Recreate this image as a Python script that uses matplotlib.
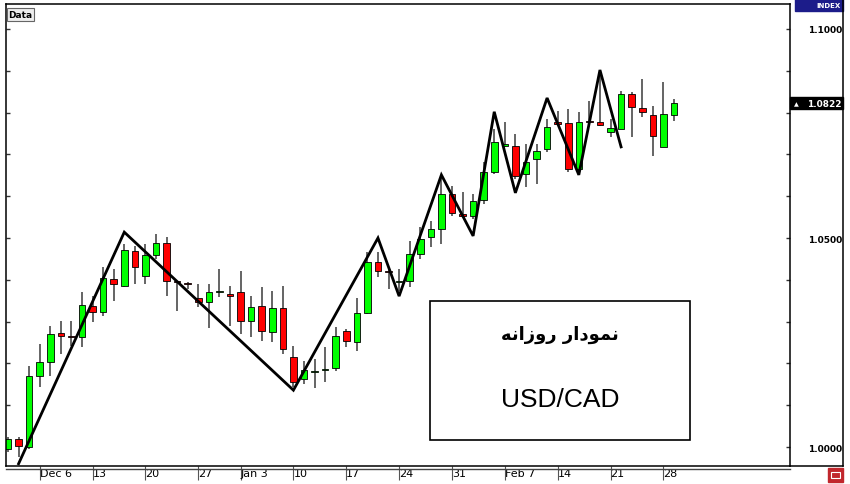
import matplotlib
matplotlib.use('Agg')
import matplotlib.pyplot as plt
import numpy as np
from matplotlib.patches import Rectangle
from matplotlib.transforms import blended_transform_factory

# daily USD/CAD candles (Dec -> Feb)
opens = [0.9995, 1.0019, 1.0000, 1.0170, 1.0203, 1.0273, 1.0266, 1.0263, 1.0337, 1.0323,
         1.0402, 1.0385, 1.0469, 1.0409, 1.0459, 1.0488, 1.0397, 1.0392, 1.0357, 1.0347,
         1.0371, 1.0366, 1.0371, 1.0302, 1.0337, 1.0275, 1.0333, 1.0215, 1.0163, 1.0180,
         1.0184, 1.0189, 1.0278, 1.0251, 1.0321, 1.0443, 1.0421, 1.0395, 1.0397, 1.0462,
         1.0502, 1.0522, 1.0605, 1.0558, 1.0553, 1.0591, 1.0658, 1.0720, 1.0720, 1.0653,
         1.0689, 1.0713, 1.0778, 1.0775, 1.0665, 1.0780, 1.0778, 1.0754, 1.0761, 1.0845,
         1.0811, 1.0794, 1.0718, 1.0794]
closes = [1.0019, 1.0002, 1.0170, 1.0203, 1.0270, 1.0266, 1.0263, 1.0340, 1.0323, 1.0404,
          1.0390, 1.0471, 1.0431, 1.0459, 1.0488, 1.0397, 1.0395, 1.0390, 1.0347, 1.0371,
          1.0373, 1.0361, 1.0302, 1.0335, 1.0278, 1.0333, 1.0235, 1.0156, 1.0184, 1.0182,
          1.0187, 1.0266, 1.0254, 1.0321, 1.0443, 1.0421, 1.0419, 1.0397, 1.0462, 1.0498,
          1.0522, 1.0605, 1.0560, 1.0553, 1.0589, 1.0658, 1.0730, 1.0725, 1.0648, 1.0682,
          1.0708, 1.0766, 1.0773, 1.0665, 1.0778, 1.0778, 1.0770, 1.0763, 1.0845, 1.0813,
          1.0802, 1.0744, 1.0797, 1.0822]
highs = [1.0024, 1.0024, 1.0194, 1.0246, 1.0290, 1.0302, 1.0302, 1.0371, 1.0361, 1.0431,
         1.0426, 1.0486, 1.0481, 1.0486, 1.0510, 1.0502, 1.0397, 1.0395, 1.0390, 1.0390,
         1.0426, 1.0385, 1.0421, 1.0361, 1.0383, 1.0373, 1.0385, 1.0242, 1.0206, 1.0211,
         1.0239, 1.0287, 1.0282, 1.0357, 1.0467, 1.0467, 1.0426, 1.0426, 1.0493, 1.0526,
         1.0541, 1.0646, 1.0624, 1.0610, 1.0605, 1.0682, 1.0761, 1.0778, 1.0749, 1.0725,
         1.0725, 1.0785, 1.0804, 1.0809, 1.0802, 1.0828, 1.0892, 1.0785, 1.0852, 1.0849,
         1.0880, 1.0816, 1.0873, 1.0833]
lows = [0.9988, 0.9976, 0.9995, 1.0144, 1.0170, 1.0223, 1.0242, 1.0239, 1.0299, 1.0313,
        1.0349, 1.0383, 1.0390, 1.0390, 1.0450, 1.0361, 1.0325, 1.0378, 1.0335, 1.0285,
        1.0359, 1.0290, 1.0270, 1.0263, 1.0254, 1.0251, 1.0223, 1.0144, 1.0151, 1.0141,
        1.0156, 1.0182, 1.0239, 1.0230, 1.0318, 1.0407, 1.0378, 1.0373, 1.0383, 1.0450,
        1.0479, 1.0486, 1.0553, 1.0550, 1.0546, 1.0581, 1.0653, 1.0718, 1.0641, 1.0622,
        1.0629, 1.0706, 1.0768, 1.0658, 1.0658, 1.0773, 1.0768, 1.0742, 1.0761, 1.0742,
        1.0790, 1.0696, 1.0718, 1.0780]

# weekly date ticks (candle index of each Monday)
week_idx = [3, 8, 13, 18, 22, 27, 32, 37, 42, 47, 52, 57, 62]
week_labels = ['Dec 6', '13', '20', '27', 'Jan 3', '10', '17', '24', '31',
               'Feb 7', '14', '21', '28']

# hand drawn swing (zigzag) line
swing_idx = [1, 11, 27, 35, 37, 41, 44, 46, 48, 51, 54, 56, 58]
swing_price = [0.9960, 1.0514, 1.0136, 1.0500, 1.0361, 1.0651, 1.0505,
               1.0802, 1.0608, 1.0835, 1.0651, 1.0902, 1.0718]

price_ticks = [1.0000, 1.0500, 1.1000]
grid_ticks = np.arange(1.0, 1.1001, 0.01)

title_fa = '\ufeea\ufee7\ufe8d\ufeaf\ufeed\ufead \ufead\ufe8d\ufea9\ufeee\ufee4\ufee7'  # "نمودار روزانه" in shaped visual order
pair = 'USD/CAD'

W, H = 850, 485


def px_box(l, t, r, b):
    return [l / W, 1 - b / H, (r - l) / W, (b - t) / H]


fig = plt.figure(figsize=(W / 100, H / 100), dpi=100)
ax = fig.add_axes(px_box(6, 5, 790, 467))
ax.set_xlim(-0.19, 73.98)
ax.set_ylim(0.99546, 1.10598)

# candles
xs = np.arange(len(opens))
up = [c >= o for o, c in zip(opens, closes)]
colors = ['#00ff00' if u else '#ff0000' for u in up]
bottoms = [min(o, c) for o, c in zip(opens, closes)]
heights = [max(abs(c - o), 0.0002) for o, c in zip(opens, closes)]
ax.vlines(xs, lows, highs, color='#3a3a3a', lw=1.1, zorder=1)
ax.bar(xs, heights, bottom=bottoms, width=0.62, color=colors,
       edgecolor='black', lw=0.6, zorder=2)

# swing line
ax.plot(swing_idx, swing_price, color='black', lw=2, solid_joinstyle='miter', zorder=3)

# axes look
for s in ax.spines.values():
    s.set_color('black')
    s.set_linewidth(1.1)
ax.plot([0, 1], [-0.0075, -0.0075], transform=ax.transAxes, color='#444444',
        lw=1, clip_on=False)

ax.set_yticks(price_ticks)
ax.set_yticks(grid_ticks, minor=True)
ax.yaxis.set_major_formatter('{x:.4f}')
ax.tick_params(axis='y', which='both', direction='in', left=True, right=True,
               labelleft=False, labelright=True, length=3, width=1, color='#333333')
ax.tick_params(axis='y', which='major', labelsize=6.5, pad=37.5)
for lab in ax.yaxis.get_ticklabels():
    lab.set_fontweight('bold')
    lab.set_ha('right')

ax.set_xticks(week_idx, week_labels)
ax.tick_params(axis='x', direction='out', length=10, width=0.8, color='#555555',
               pad=-8.5, labelsize=8)
plt.setp(ax.get_xticklabels(), ha='left')

# "Data" tag
ax.text(0.003, 0.987, 'Data', transform=ax.transAxes, ha='left', va='top',
        fontsize=6.5, fontweight='bold',
        bbox=dict(boxstyle='square,pad=0.2', fc='#eeeeee', ec='#666666', lw=0.8))

# price panel
ax2 = fig.add_axes(px_box(790, 0, 843, 467))
ax2.set_xticks([])
ax2.set_yticks([])
ax2.patch.set_visible(False)
ax2.spines['left'].set_visible(False)
ax2.spines['top'].set_visible(False)
ax2.spines['right'].set_linewidth(1.1)
ax2.spines['bottom'].set_linewidth(1.1)
ax2.add_patch(Rectangle((0.094, 0.974), 0.906, 0.026, transform=ax2.transAxes,
                        color='#1c1c8a', clip_on=False))
ax2.text(0.96, 0.987, 'INDEX', transform=ax2.transAxes, ha='right', va='center',
         color='white', fontsize=5, fontweight='bold')

# last price marker
tr = blended_transform_factory(ax2.transAxes, ax.transData)
last = closes[-1]
ax2.add_patch(Rectangle((0, last - 0.00144), 1, 0.00288, transform=tr,
                        color='black', clip_on=False))
ax2.text(0.08, last, '\u25b2', transform=tr, ha='left', va='center',
         color='white', fontsize=4.5)
ax2.text(0.97, last, f'{last:.4f}', transform=tr, ha='right', va='center',
         color='white', fontsize=6.5, fontweight='bold')

# small red button at bottom right
fig.add_artist(Rectangle((828 / W, 1 - 483 / H), 15 / W, 14 / H,
                         transform=fig.transFigure, color='#c1272d'))
fig.add_artist(Rectangle((831 / W, 1 - 479 / H), 9 / W, 6 / H,
                         transform=fig.transFigure, fc='none', ec='white', lw=0.8))

# caption box
ax.add_patch(Rectangle((0.5408, 0.0563), 0.3316, 0.3008, transform=ax.transAxes,
                       fc='white', ec='black', lw=1.2, zorder=4))
ax.text(0.7066, 0.2857, title_fa, transform=ax.transAxes, ha='center', va='center',
        fontsize=13, fontweight='bold', family=['DejaVu Sans'], zorder=5)
ax.text(0.7066, 0.145, pair, transform=ax.transAxes, ha='center', va='center',
        fontsize=19, family=['Liberation Sans'], zorder=5)

fig.savefig('out.png', dpi=100)
